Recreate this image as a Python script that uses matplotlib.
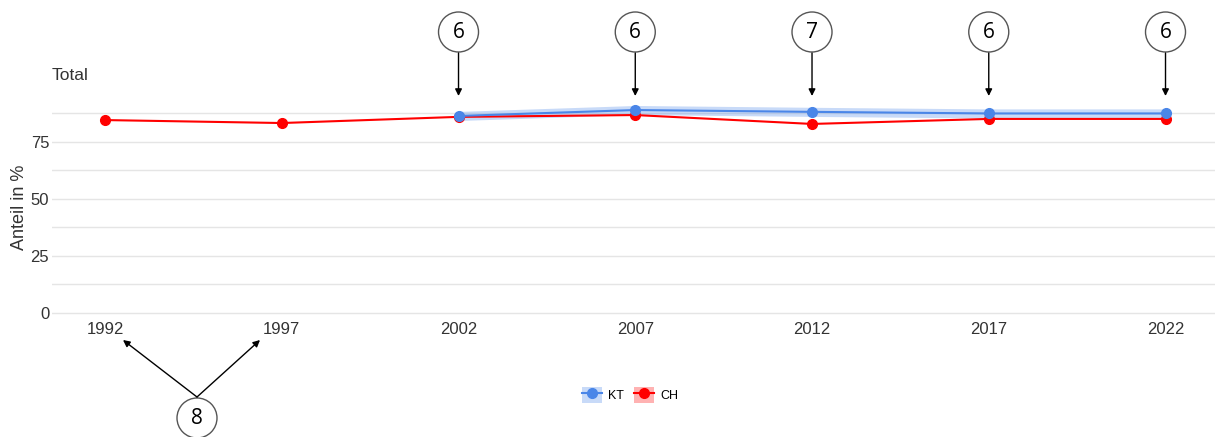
import matplotlib.pyplot as plt
from matplotlib.patches import Ellipse, FancyArrowPatch, Patch
from matplotlib.lines import Line2D

plt.rcParams['font.family'] = ['Liberation Sans', 'DejaVu Sans']

years = [1992, 1997, 2002, 2007, 2012, 2017, 2022]
ch_values = [84.6, 83.3, 86.0, 86.8, 82.9, 85.1, 85.1]
kt_years = [2002, 2007, 2012, 2017, 2022]
kt_values = [86.4, 89.0, 88.2, 87.5, 87.5]
kt_lower = [84.4, 87.0, 86.2, 85.5, 85.5]
kt_upper = [88.4, 91.0, 90.2, 89.5, 89.5]
kt_counts = ["6", "6", "7", "6", "6"]
ch_count = "8"

blue = "#4a86e8"
red = "#ff0000"
grey = "#333333"

fig = plt.figure(figsize=(12.15, 4.37), dpi=100)
W, H = 1215, 437
# axes in pixel terms: left 52, right 1215, top 100, bottom 318
ax = fig.add_axes([52 / W, 1 - 318 / H, (1215 - 52) / W, (318 - 100) / H])

x_left, x_right = 1990.5, 2023.4
ax.set_xlim(x_left, x_right)
ax.set_ylim(-2.2, 93.4)

ax.fill_between(kt_years, kt_lower, kt_upper, color=blue, alpha=0.3, lw=0, zorder=2)
ax.plot(years, ch_values, color=red, lw=1.5, marker="o", ms=7, zorder=3)
ax.plot(kt_years, kt_values, color=blue, lw=1.5, marker="o", ms=7, zorder=4)

ax.set_yticks([0, 25, 50, 75])
ax.set_yticks([12.5, 37.5, 62.5, 87.5], minor=True)
ax.set_xticks(years)
ax.grid(True, which="both", axis="y", color="#e5e5e5", lw=1)
ax.grid(False, axis="x")
ax.tick_params(which="both", length=0, labelsize=12, colors=grey)
ax.tick_params(axis="y", pad=2)
ax.tick_params(axis="x", pad=3)
for s in ax.spines.values():
    s.set_visible(False)

fig.text(20 / W, 1 - 207 / H, "Anteil in %", fontsize=13, color=grey,
         rotation=90, ha="center", va="center")
fig.text(52 / W, 1 - 75 / H, "Total", fontsize=12.5, color=grey, va="center", ha="left")


def px(x):
    # data x -> figure pixel x
    return 52 + (x - x_left) / (x_right - x_left) * (1215 - 52)


def ring(cx, cy, label):
    e = Ellipse((cx / W, 1 - cy / H), 40 / W, 40 / H, transform=fig.transFigure,
                fill=False, ec="#555555", lw=1)
    fig.patches.append(e)
    fig.text(cx / W, 1 - cy / H, label, fontsize=15, ha="center", va="center",
             color="black", family=["Open Sans", "DejaVu Sans"])


def arrow(x0, y0, x1, y1):
    fig.patches.append(FancyArrowPatch(
        (x0 / W, 1 - y0 / H), (x1 / W, 1 - y1 / H), transform=fig.transFigure,
        arrowstyle="-|>", mutation_scale=10, color="black", lw=1, shrinkA=0, shrinkB=0))


for yr, n in zip(kt_years, kt_counts):
    cx = px(yr)
    ring(cx, 32, n)
    arrow(cx, 53, cx, 96)

# bottom annotation for CH-only years
bx, by = 197, 418
ring(bx, by, ch_count)
arrow(bx, 397, 123, 340)
arrow(bx, 397, 260, 340)

handles = [
    (Patch(facecolor=blue, alpha=0.3, lw=0), Line2D([], [], color=blue, marker="o", ms=7, lw=1.5)),
    (Patch(facecolor=red, alpha=0.3, lw=0), Line2D([], [], color=red, marker="o", ms=7, lw=1.5)),
]
fig.legend(handles, ["KT", "CH"], loc="center", bbox_to_anchor=(630 / W, 1 - 395 / H),
           ncol=2, frameon=False, fontsize=9, handlelength=1.6, handleheight=1.6,
           columnspacing=0.8, handletextpad=0.5)

fig.savefig("out.png", dpi=100)
